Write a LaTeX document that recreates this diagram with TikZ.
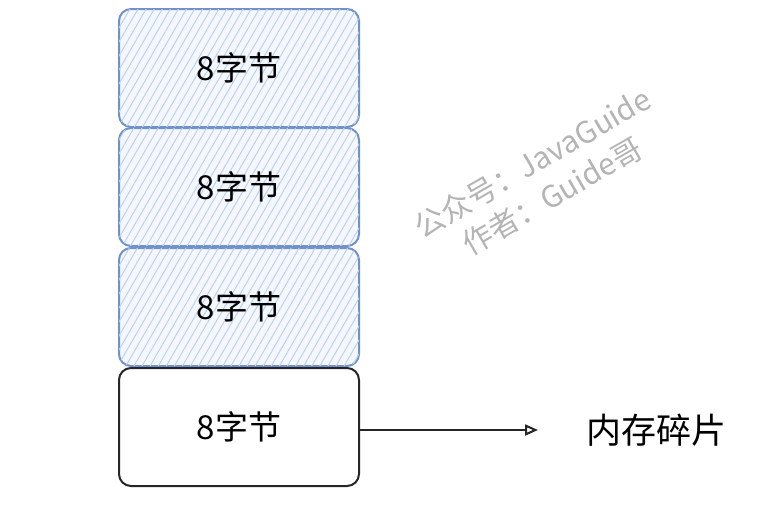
\documentclass[tikz,border=0pt]{standalone}
\usepackage{fontspec}
\setmainfont{Noto Sans CJK SC}
\usetikzlibrary{arrows.meta,patterns.meta}
\definecolor{blueline}{HTML}{7092C8}
\definecolor{bluehatch}{HTML}{BDD0EE}
\definecolor{bluetint}{HTML}{F4F8FE}
\definecolor{wm}{HTML}{B4B4B4}
\tikzset{
  membox/.style={draw, line width=2pt, rounded corners=12pt, minimum width=240pt, minimum height=118pt, inner sep=0pt},
  usedbox/.style={membox, draw=blueline, fill=bluetint, postaction={pattern={Lines[angle=60,distance=7pt,line width=1pt]}, pattern color=bluehatch}},
  freebox/.style={membox, draw=black!85},
  lbl/.style={font=\fontsize{33}{36}\selectfont},
  wmtext/.style={text=wm, rotate=30, font=\fontsize{30}{32}\selectfont, anchor=center},
}
\begin{document}
\begin{tikzpicture}[x=1pt,y=-1pt]
\useasboundingbox (0,0) rectangle (764,514);
\node[usedbox] (b1) at (239,68) {};
\node[usedbox] (b2) at (239,187) {};
\node[usedbox] (b3) at (239,307) {};
\node[freebox] (b4) at (239,427) {};
\node[lbl] (t1) at (b1.center) {8字节};
\node[lbl] (t2) at (b2.center) {8字节};
\node[lbl] (t3) at (b3.center) {8字节};
\node[lbl] (t4) at (b4.center) {8字节};
\coordinate (tip) at (538,430);
\draw[line width=2pt, black!85, -{Triangle[open,length=13pt,width=11pt]}] (b4.east |- tip) -- (tip);
\node[font=\fontsize{35}{38}\selectfont, anchor=west] (frag) at (583,430) {内存碎片};
\node[wmtext] (wm1) at (532,163) {公众号：JavaGuide};
\node[wmtext] (wm2) at (552,196) {作者：Guide哥};
\end{tikzpicture}
\end{document}
